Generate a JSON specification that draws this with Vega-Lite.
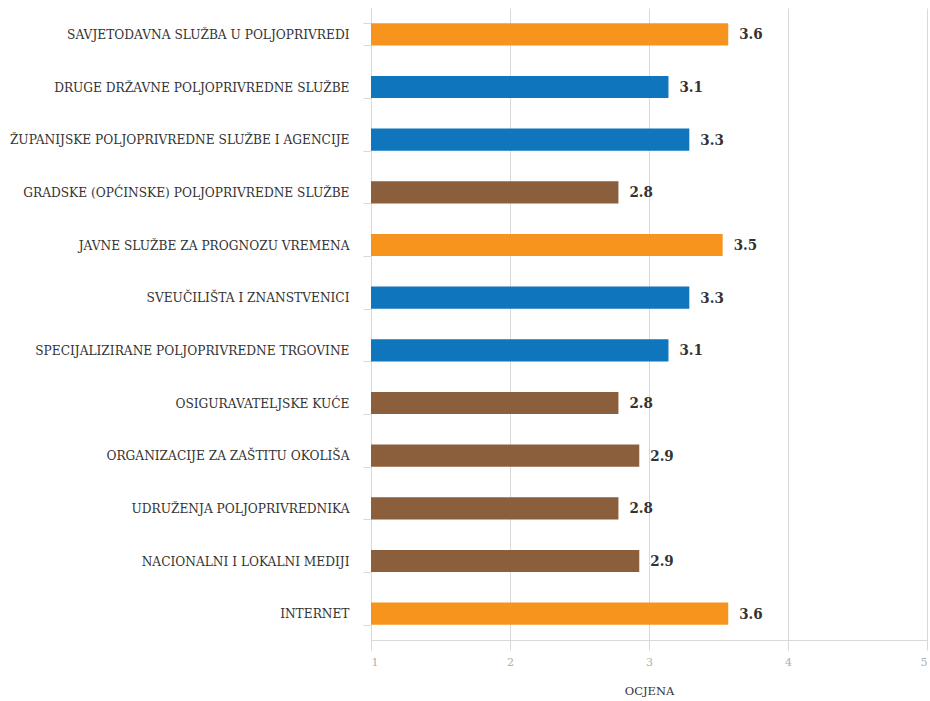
{
  "$schema": "https://vega.github.io/schema/vega-lite/v6.json",
  "width": 556,
  "height": 632,
  "padding": {"left": 9, "top": 2, "right": 3, "bottom": 5},
  "background": "white",
  "config": {"view": {"stroke": null}, "font": "DejaVu Serif"},
  "data": {"values": [
    {"izvor": "SAVJETODAVNA SLUŽBA U POLJOPRIVREDI", "ocjena": 3.57, "grupa": "visoka"},
    {"izvor": "DRUGE DRŽAVNE POLJOPRIVREDNE SLUŽBE", "ocjena": 3.14, "grupa": "srednja"},
    {"izvor": "ŽUPANIJSKE POLJOPRIVREDNE SLUŽBE I AGENCIJE", "ocjena": 3.29, "grupa": "srednja"},
    {"izvor": "GRADSKE (OPĆINSKE) POLJOPRIVREDNE SLUŽBE", "ocjena": 2.78, "grupa": "niska"},
    {"izvor": "JAVNE SLUŽBE ZA PROGNOZU VREMENA", "ocjena": 3.53, "grupa": "visoka"},
    {"izvor": "SVEUČILIŠTA I ZNANSTVENICI", "ocjena": 3.29, "grupa": "srednja"},
    {"izvor": "SPECIJALIZIRANE POLJOPRIVREDNE TRGOVINE", "ocjena": 3.14, "grupa": "srednja"},
    {"izvor": "OSIGURAVATELJSKE KUĆE", "ocjena": 2.78, "grupa": "niska"},
    {"izvor": "ORGANIZACIJE ZA ZAŠTITU OKOLIŠA", "ocjena": 2.93, "grupa": "niska"},
    {"izvor": "UDRUŽENJA POLJOPRIVREDNIKA", "ocjena": 2.78, "grupa": "niska"},
    {"izvor": "NACIONALNI I LOKALNI MEDIJI", "ocjena": 2.93, "grupa": "niska"},
    {"izvor": "INTERNET", "ocjena": 3.57, "grupa": "visoka"}
  ]},
  "encoding": {
    "y": {
      "field": "izvor", "type": "nominal", "sort": null,
      "scale": {"paddingInner": 0.58, "paddingOuter": 0.29},
      "axis": {
        "title": null, "tickBand": "extent", "tickSize": 8, "labelPadding": 14,
        "domainColor": "#d9d9d9", "tickColor": "#d9d9d9", "labelColor": "#333333",
        "labelFontSize": 12.2, "labelFont": "DejaVu Serif", "minExtent": 360, "maxExtent": 366,
        "labelLimit": 360
      }
    },
    "x": {
      "field": "ocjena", "type": "quantitative",
      "scale": {"domain": [1, 5], "nice": false, "zero": false},
      "axis": {
        "title": "OCJENA", "titleFont": "DejaVu Serif", "titleFontSize": 11.5, "titleFontWeight": "normal",
        "titleColor": "#333333", "titlePadding": 18,
        "values": [1, 2, 3, 4, 5], "format": "d", "grid": true, "gridColor": "#d9d9d9",
        "tickSize": 10, "tickColor": "#d9d9d9", "domainColor": "#d9d9d9",
        "labelColor": "#b0b0b0", "labelFontSize": 11, "labelPadding": 6
      }
    }
  },
  "layer": [
    {
      "mark": {"type": "bar"},
      "encoding": {
        "x2": {"datum": 1},
        "color": {
          "field": "grupa", "type": "nominal", "legend": null,
          "scale": {"domain": ["visoka", "srednja", "niska"], "range": ["#F7941D", "#0F75BC", "#8B5E3C"]}
        }
      }
    },
    {
      "mark": {"type": "text", "align": "left", "dx": 11, "fontWeight": "bold", "fontSize": 15, "color": "#333333", "font": "DejaVu Serif Condensed"},
      "encoding": {
        "text": {"field": "ocjena", "type": "quantitative", "format": ".1f"}
      }
    }
  ]
}
